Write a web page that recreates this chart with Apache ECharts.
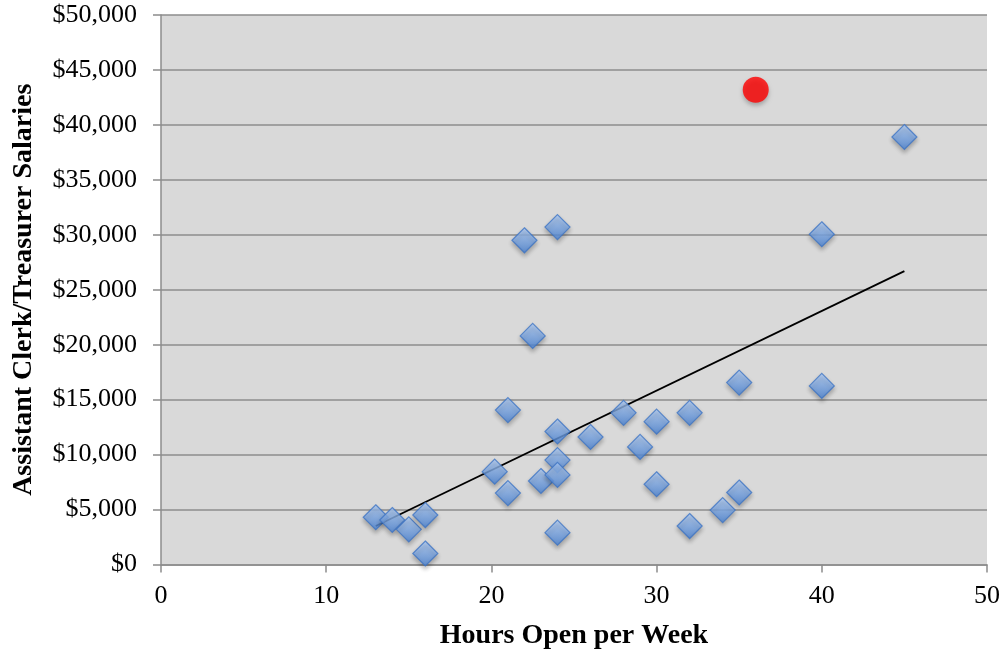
<!DOCTYPE html>
<html>
<head>
<meta charset="utf-8">
<script src="https://cdn.jsdelivr.net/npm/echarts@6/dist/echarts.min.js"></script>
<style>html,body{margin:0;padding:0;background:#fff}#c{width:1004px;height:655px}</style>
</head>
<body>
<div id="c"></div>
<script>
// Hours open per week (x) and salary (y) for each library
var hours = [13, 14, 15, 16, 16, 20.2, 21, 21, 22, 22.5, 23, 24, 24, 24, 24, 24, 26, 28, 29, 30, 30, 32, 32, 34, 35, 35, 40, 40, 45];
var salaries = [4300, 4050, 3200, 4500, 1000, 8450, 6500, 14050, 29500, 20800, 7600, 30700, 12100, 9500, 8150, 2900, 11600, 13800, 10700, 13000, 7300, 13800, 3500, 4950, 6550, 16550, 30050, 16250, 38900];
// Highlighted library
var highlightHours = [36];
var highlightSalary = [43200];
// Trend line endpoints as drawn
var trendHours = [13, 45];
var trendSalary = [3500, 26700];
var xTicks = [0, 10, 20, 30, 40, 50];
var yTicks = [0, 5000, 10000, 15000, 20000, 25000, 30000, 35000, 40000, 45000, 50000];

var blue = hours.map(function(h, i){ return [h, salaries[i]]; });
var red = highlightHours.map(function(h, i){ return [h, highlightSalary[i]]; });
var trend = trendHours.map(function(h, i){ return [h, trendSalary[i]]; });

var font = '"Liberation Serif", "DejaVu Serif", serif';
var chart = echarts.init(document.getElementById('c'), null, {renderer: 'canvas'});
chart.setOption({
  animation: false,
  backgroundColor: '#ffffff',
  grid: {left: 161, right: 17, top: 15, bottom: 90.5, show: true, backgroundColor: '#d9d9d9', borderWidth: 0},
  xAxis: {
    type: 'value', min: xTicks[0], max: xTicks[xTicks.length-1], interval: 10,
    name: 'Hours Open per Week', nameLocation: 'middle', nameGap: 57,
    nameTextStyle: {fontFamily: font, fontWeight: 'bold', fontSize: 28, color: '#000'},
    axisLine: {show: true, lineStyle: {color: '#8c8c8c', width: 1.5}},
    axisTick: {show: true, length: 8, lineStyle: {color: '#8c8c8c', width: 1.5}},
    axisLabel: {fontFamily: font, fontSize: 26, color: '#000', margin: 19},
    splitLine: {show: false}
  },
  yAxis: {
    type: 'value', min: yTicks[0], max: yTicks[yTicks.length-1], interval: 5000,
    name: 'Assistant Clerk/Treasurer Salaries', nameLocation: 'middle', nameGap: 123,
    nameTextStyle: {fontFamily: font, fontWeight: 'bold', fontSize: 28, color: '#000'},
    axisLine: {show: true, lineStyle: {color: '#8c8c8c', width: 1.5}},
    axisTick: {show: true, length: 8, lineStyle: {color: '#8c8c8c', width: 1.5}},
    axisLabel: {fontFamily: font, fontSize: 26, color: '#000', margin: 24,
      formatter: function(v){ return '$' + v.toLocaleString('en-US'); }},
    splitLine: {show: true, lineStyle: {color: '#8c8c8c', width: 1.5}}
  },
  series: [
    {
      type: 'line', data: trend, symbol: 'none', silent: true,
      lineStyle: {color: '#000', width: 1.8}, z: 3
    },
    {
      type: 'scatter', data: blue, symbol: 'diamond', symbolSize: [25, 25], z: 4,
      itemStyle: {
        color: new echarts.graphic.LinearGradient(0, 0, 0, 1, [
          {offset: 0, color: '#b2d0fa'}, {offset: 1, color: '#4a84d6'}
        ]),
        borderColor: '#3d74c4', borderWidth: 1.2,
        shadowBlur: 4, shadowOffsetY: 3, shadowColor: 'rgba(0,0,0,0.3)'
      }
    },
    {
      type: 'scatter', data: red, symbol: 'circle', symbolSize: 26, z: 5,
      itemStyle: {color: '#ff0000', shadowBlur: 4, shadowOffsetY: 3, shadowColor: 'rgba(0,0,0,0.3)'}
    }
  ]
});
</script>
</body>
</html>
